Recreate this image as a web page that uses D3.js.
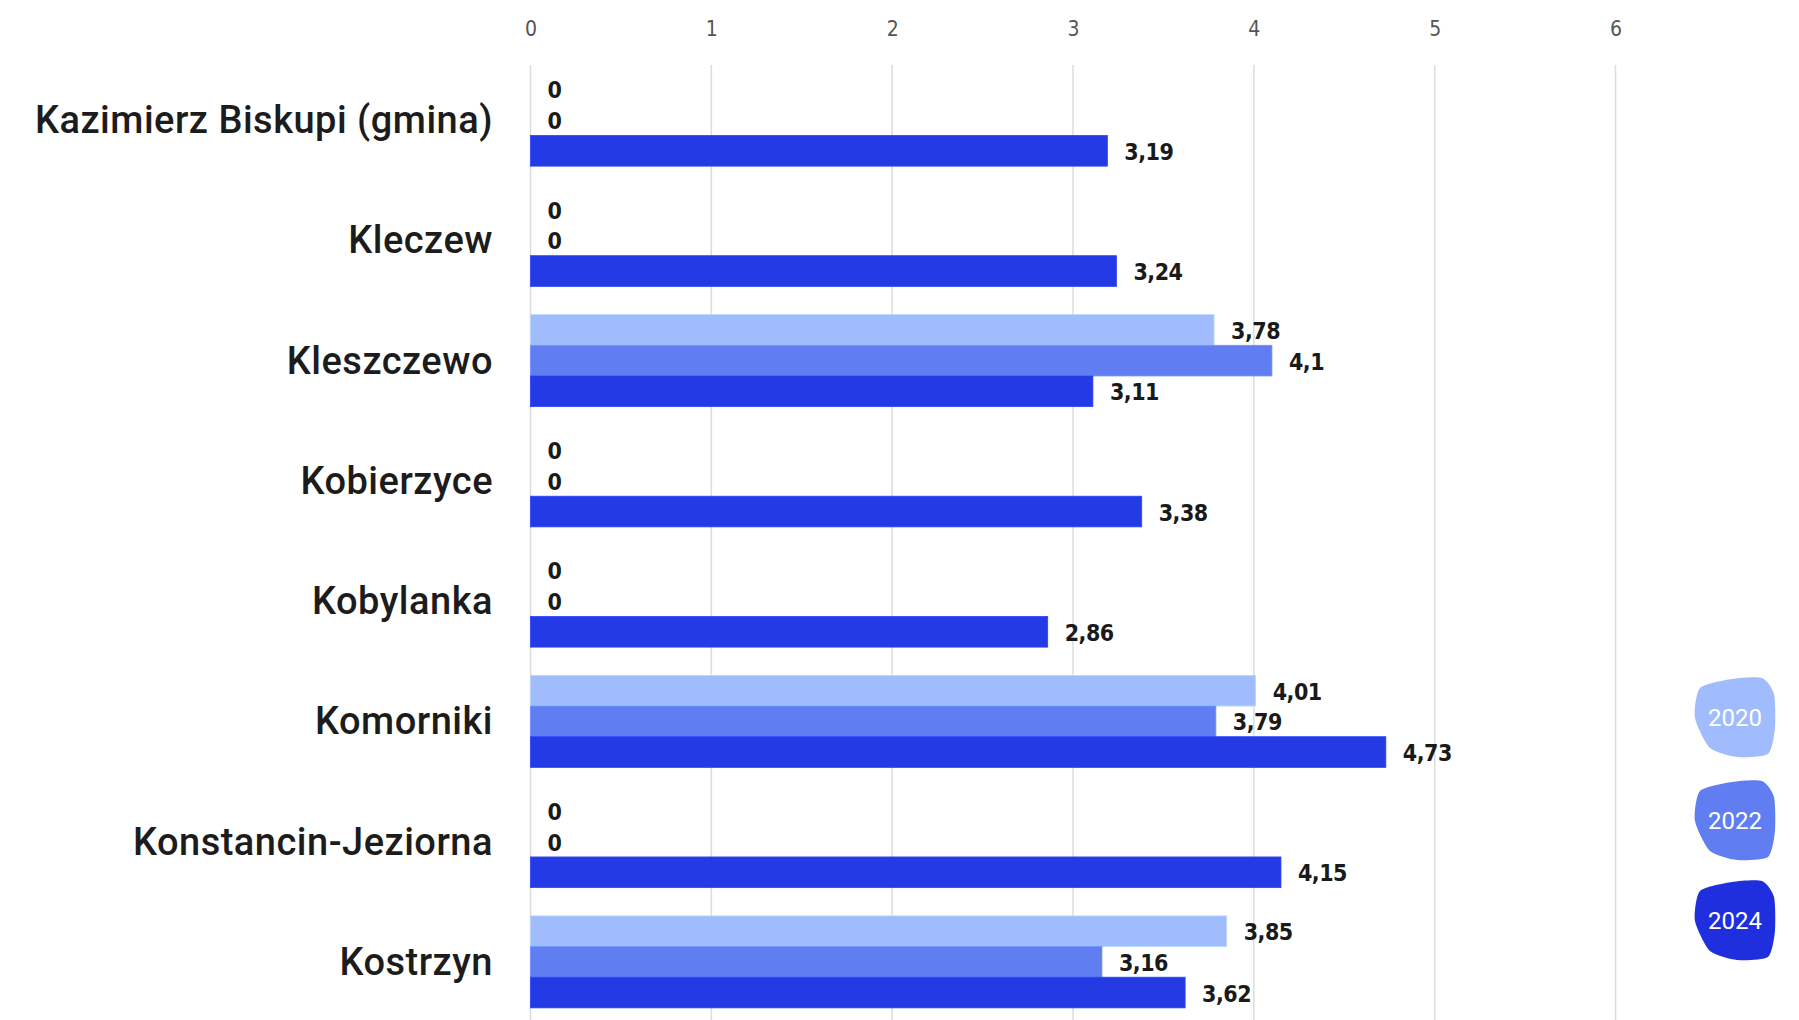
<!DOCTYPE html>
<html><head><meta charset="utf-8">
<script src="https://cdn.jsdelivr.net/npm/d3@7"></script>
<style>
html,body{margin:0;padding:0;background:#fff;}
svg{display:block;}
</style></head>
<body>
<svg id="chart" width="1799" height="1020"></svg>
<script>
const categories = ["Kazimierz Biskupi (gmina)","Kleczew","Kleszczewo","Kobierzyce","Kobylanka","Komorniki","Konstancin-Jeziorna","Kostrzyn"];
const seriesNames = ["2020","2022","2024"];
const values2020 = [0,0,3.78,0,0,4.01,0,3.85];
const values2022 = [0,0,4.1,0,0,3.79,0,3.16];
const values2024 = [3.19,3.24,3.11,3.38,2.86,4.73,4.15,3.62];
const xTicks = [0,1,2,3,4,5,6];
const colors = ["#a1bcfc","#607ef2","#243ae4"];
const legendColors = ["#a1bcfc","#607ef2","#1f2fdd"];

const seriesValues = [values2020, values2022, values2024];
const svg = d3.select("#chart");
const W = 1799, H = 1020;

const x = d3.scaleLinear().domain([0,6]).range([530.5,1615.5]);
const y = d3.scaleBand().domain(categories).range([60,1022]).paddingInner(0.235).paddingOuter(0.1175);
const ySub = d3.scaleBand().domain(seriesNames).range([0,y.bandwidth()]);

// gridlines
svg.append("g").selectAll("line").data(xTicks).join("line")
  .attr("x1",d=>x(d)).attr("x2",d=>x(d))
  .attr("y1",65).attr("y2",H)
  .attr("stroke","#dcdcdc").attr("stroke-width",1.5);

// top axis labels
const axis = d3.axisTop(x).tickValues(xTicks).tickSize(0).tickPadding(0).tickFormat(d3.format("d"));
const ax = svg.append("g").attr("transform","translate(0,36)").call(axis);
ax.select(".domain").remove();
ax.selectAll("text").attr("font-family","'DejaVu Sans Condensed', 'DejaVu Sans'").attr("font-size",21).attr("fill","#555");

// category labels
svg.append("g").selectAll("text").data(categories).join("text")
  .attr("x",493).attr("y",d=>y(d)+y.bandwidth()/2)
  .attr("text-anchor","end").attr("dominant-baseline","central")
  .attr("font-family","Roboto, 'Noto Sans', sans-serif").attr("font-weight",500)
  .attr("font-size",38).attr("fill","#1c1c1c").attr("letter-spacing","0.5")
  .text(d=>d);

// bars
const flat = [];
categories.forEach((c,i)=>{
  seriesNames.forEach((s,j)=>{
    flat.push({cat:c, series:s, j:j, v:seriesValues[j][i]});
  });
});

const gBars = svg.append("g");
gBars.selectAll("rect").data(flat.filter(d=>d.v>0)).join("rect")
  .attr("x",x(0))
  .attr("y",d=>y(d.cat)+ySub(d.series))
  .attr("width",d=>x(d.v)-x(0))
  .attr("height",ySub.bandwidth())
  .attr("fill",d=>colors[d.j])
  .attr("stroke",d=>d3.color(colors[d.j]).brighter(0.4))
  .attr("stroke-width",0.8);

// value labels
const fmt = v => String(v).replace(".",",");
gBars.selectAll("text").data(flat).join("text")
  .attr("x",d=>x(d.v)+17)
  .attr("y",d=>y(d.cat)+ySub(d.series)+ySub.bandwidth()/2+1)
  .attr("dominant-baseline","central")
  .attr("font-family","'DejaVu Sans Condensed', 'DejaVu Sans'")
  .attr("font-weight","bold").attr("font-size",23).attr("fill","#1a1a1a")
  .attr("letter-spacing","-0.5")
  .text(d=>fmt(d.v));

// legend blobs
const blobPts = [[8,12],[40,3],[70,2],[82,18],[83,52],[76,78],[45,81],[18,72],[3,42]];
const blobLine = d3.line().curve(d3.curveCardinalClosed.tension(0.35));
const legendY = [676,779,879];
const lg = svg.append("g").selectAll("g").data(seriesNames).join("g")
  .attr("transform",(d,i)=>`translate(1692,${legendY[i]})`);
lg.append("path").attr("d",blobLine(blobPts)).attr("fill",(d,i)=>legendColors[i]);
lg.append("text").attr("x",43).attr("y",42).attr("text-anchor","middle").attr("dominant-baseline","central")
  .attr("font-family","Roboto, sans-serif").attr("font-size",24).attr("fill","#fff").text(d=>d);
</script>
</body></html>
